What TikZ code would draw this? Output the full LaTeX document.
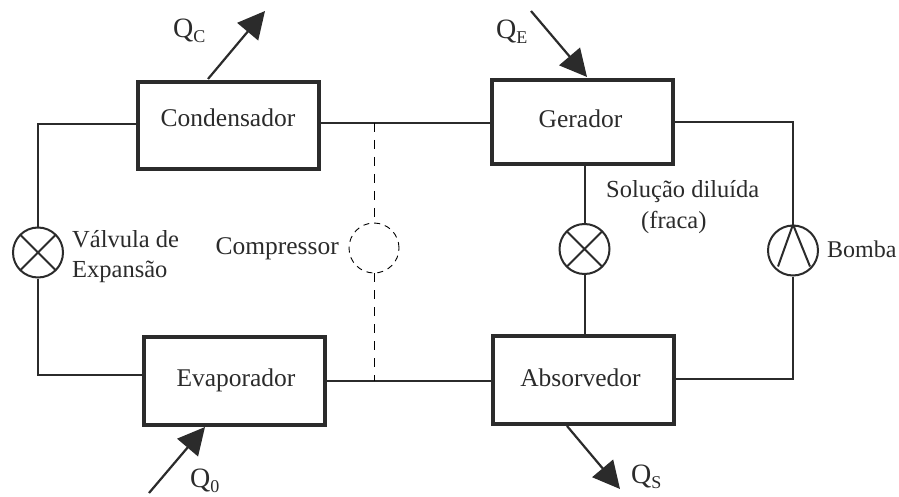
\documentclass[tikz,border=0pt]{standalone}
\usepackage{fontspec}
\setmainfont{Liberation Serif}
\usetikzlibrary{arrows.meta}
\definecolor{ink}{gray}{0.17}
\newcommand{\boxtext}[3]{\makebox[0pt]{\hspace*{#1}\raisebox{#2}[0pt][0pt]{#3}}}
\newcommand{\heatq}[1]{Q\raisebox{-5pt}{\fontsize{18}{20}\selectfont #1}}
\tikzset{
  box/.style={draw=ink,line width=4.4pt,fill=white,minimum width=181pt,minimum height=#1,inner sep=0pt,font=\fontsize{25.5}{30}\selectfont,text=ink},
  lbl/.style={inner sep=0pt,font=\fontsize{24.5}{30}\selectfont,text=ink,align=left},
  qlbl/.style={inner sep=0pt,font=\fontsize{28}{32}\selectfont,text=ink,anchor=base west},
  pipe/.style={draw=ink,line width=2pt},
  heat/.style={draw=ink,line width=2.2pt,-{Triangle[length=27pt,width=27pt]}},
  circ/.style={circle,draw=ink,line width=2pt,minimum size=50pt,inner sep=0pt,fill=white},
  dcirc/.style={circle,draw=black,line width=0.9pt,dash pattern=on 6pt off 5pt,minimum size=50pt,inner sep=0pt},
  dline/.style={draw=black,line width=1pt,dash pattern=on 9pt off 8pt}
}
\begin{document}
\begin{tikzpicture}[x=1pt,y=-1pt]
\useasboundingbox[fill=white] (0,0) rectangle (899,497);
\node[box=87pt] (cond) at (228.5,125.5) {\boxtext{-1pt}{-1.5pt}{Condensador}};
\node[box=84pt] (ger) at (582.5,122) {\boxtext{-4pt}{-6pt}{Gerador}};
\node[box=88pt] (evap) at (234.5,381) {\boxtext{3pt}{-5pt}{Evaporador}};
\node[box=88pt] (abs) at (583.5,380) {\boxtext{-6pt}{-6pt}{Absorvedor}};
\node[circ] (vexp) at (38,252.5) {};
\node[circ] (vsol) at (584.5,249) {};
\node[circ] (pump) at (793,250.5) {};
\node[dcirc] (comp) at (374,248) {};
\draw[pipe] (vexp.center)+(-17.5,-17.5) -- +(17.5,17.5) (vexp.center)+(-17.5,17.5) -- +(17.5,-17.5);
\draw[pipe] (vsol.center)+(-17.5,-17.5) -- +(17.5,17.5) (vsol.center)+(-17.5,17.5) -- +(17.5,-17.5);
\draw[pipe] (pump.north) -- +(-15,42) (pump.north) -- +(17,42);
\coordinate (tl) at (38,124);
\coordinate (bl) at (38,375);
\coordinate (tr) at (793,122);
\coordinate (br) at (793,379);
\coordinate (jt) at (374,123);
\coordinate (jb) at (374,380.5);
\draw[pipe] (cond.west |- tl) -- (tl) -- (vexp.north);
\draw[pipe] (vexp.south) -- (bl) -- (evap.west |- bl);
\draw[pipe] (cond.east |- jt) -- (ger.west |- jt);
\draw[pipe] (evap.east |- jb) -- (abs.west |- jb);
\draw[pipe] (ger.south -| vsol) -- (vsol.north);
\draw[pipe] (vsol.south) -- (abs.north -| vsol);
\draw[pipe] (ger.east |- tr) -- (tr) -- (pump.north);
\draw[pipe] (pump.south) -- (br) -- (abs.east |- br);
\draw[dline] (jt) -- (comp.north);
\draw[dline] (comp.south) -- (jb);
\coordinate (qc1) at (208,79);
\coordinate (qc2) at (265,11);
\coordinate (qe1) at (531,11);
\coordinate (qe2) at (587,77);
\coordinate (q01) at (149,493);
\coordinate (q02) at (205,427);
\coordinate (qs1) at (567,426);
\coordinate (qs2) at (620,489);
\draw[heat] (qc1) -- (qc2);
\draw[heat] (qe1) -- (qe2);
\draw[heat] (q01) -- (q02);
\draw[heat] (qs1) -- (qs2);
\node[qlbl] (tqc) at (173,38) {\heatq{C}};
\node[qlbl] (tqe) at (496,39) {\heatq{E}};
\node[qlbl] (tq0) at (190,487) {\heatq{0}};
\node[qlbl] (tqs) at (631,483) {\heatq{S}};
\node[lbl,anchor=base west] (tv) at (72,277) {Válvula de\\Expansão};
\node[lbl,anchor=base east,font=\fontsize{25.5}{30}\selectfont] (tc) at (339,254) {Compressor};
\node[lbl,anchor=base west] (ts) at (606,228) {Solução diluída\\[1pt]\hspace*{35pt}(fraca)};
\node[lbl,anchor=base west,font=\fontsize{24}{30}\selectfont] (tb) at (827,257) {Bomba};
\end{tikzpicture}
\end{document}
